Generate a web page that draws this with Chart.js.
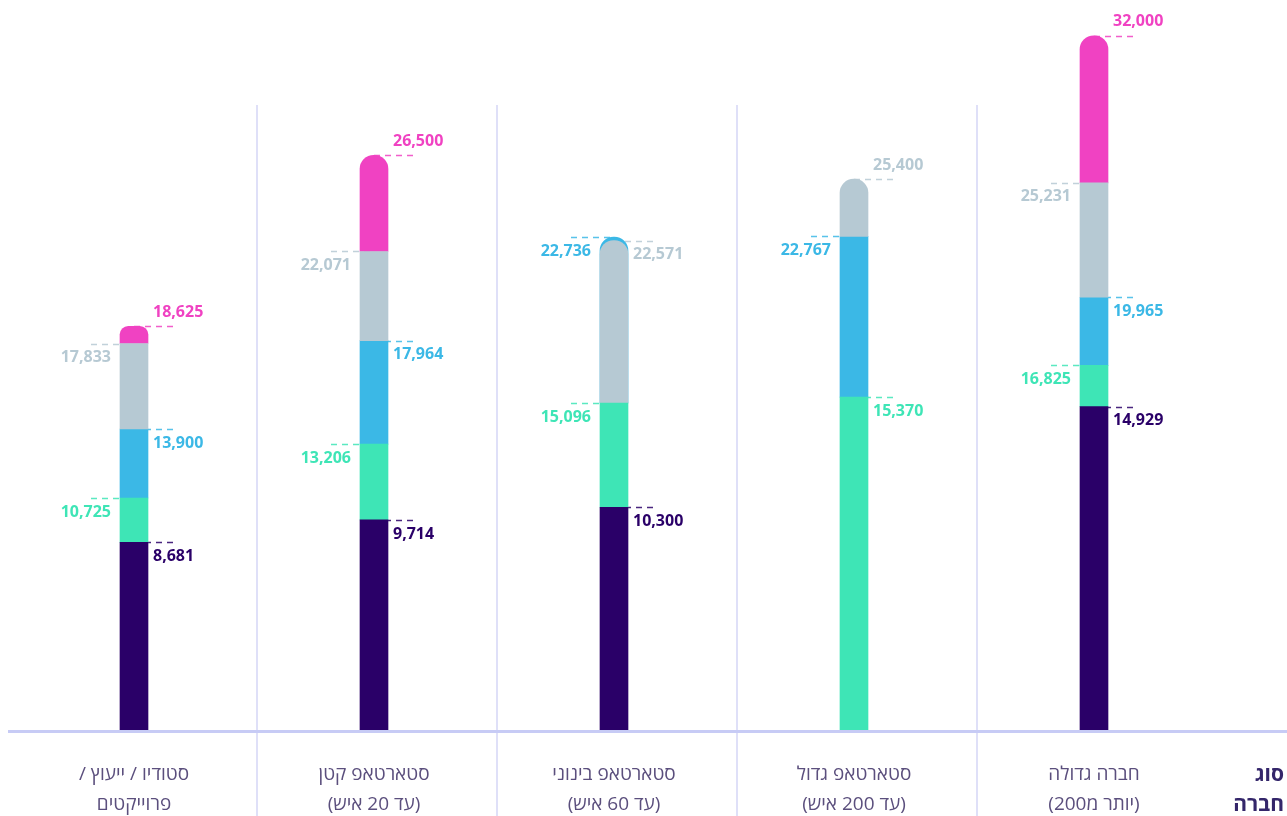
<!DOCTYPE html>
<html lang="he">
<head>
<meta charset="utf-8">
<script src="https://cdn.jsdelivr.net/npm/chart.js@4/dist/chart.umd.min.js"></script>
<style>
  html, body { margin: 0; padding: 0; background: #ffffff; }
  #wrap { width: 1287px; height: 816px; position: relative; }
  canvas { direction: rtl; }
</style>
</head>
<body>
<div id="wrap"><canvas id="c"></canvas></div>
<script>
// ---- data ----
const categories = [
  ["סטודיו / ייעוץ /", "פרוייקטים"],
  ["סטארטאפ קטן", "(עד 20 איש)"],
  ["סטארטאפ בינוני", "(עד 60 איש)"],
  ["סטארטאפ גדול", "(עד 200 איש)"],
  ["חברה גדולה", "(יותר מ200)"]
];
const axisTitle = ["סוג", "חברה"];
const seriesNames = ["סדרה 1", "סדרה 2", "סדרה 3", "סדרה 4", "סדרה 5"];
const darkValues  = [8681, 9714, 10300, null, 14929];
const greenValues = [10725, 13206, 15096, 15370, 16825];
const blueValues  = [13900, 17964, 22736, 22767, 19965];
const grayValues  = [17833, 22071, 22571, 25400, 25231];
const pinkValues  = [18625, 26500, null, null, 32000];

// ---- styles ----
const seriesColors = ["#2a0068", "#3ee5b6", "#3bb8e6", "#b6c9d3", "#f042c2"];
const drawOrder = [1, 2, 4, 3, 5];
// label placement per series per category: side (L/R) and above/below the leader line
const labelSide = [
  ["R", "R", "R", "R", "R"],
  ["L", "L", "L", "R", "L"],
  ["R", "R", "L", "L", "R"],
  ["L", "L", "R", "R", "L"],
  ["R", "R", "R", "R", "R"]
];
const labelAbove = [
  [false, false, false, false, false],
  [false, false, false, false, false],
  [false, false, false, false, false],
  [false, false, false, true, false],
  [true, true, true, true, true]
];

const allValues = [darkValues, greenValues, blueValues, grayValues, pinkValues];
const BAR_W = 28;
const RADIUS = 14;

function catMax(i) {
  let m = 0;
  allValues.forEach(a => { if (a[i] != null && a[i] > m) m = a[i]; });
  return m;
}
function floating(k) {
  return allValues[k].map((v, i) => {
    if (v == null) return null;
    let lower = 0;
    for (let j = 0; j < k; j++) {
      const w = allValues[j][i];
      if (w != null && w < v && w > lower) lower = w;
    }
    return [lower, v];
  });
}

const datasets = allValues.map((vals, k) => ({
  label: seriesNames[k],
  data: floating(k),
  backgroundColor: seriesColors[k],
  order: drawOrder[k],
  grouped: false,
  barThickness: BAR_W,
  borderSkipped: false,
  borderWidth: 0,
  borderRadius: (ctx) => {
    const i = ctx.dataIndex;
    const v = vals[i];
    const y = ctx.chart.scales && ctx.chart.scales.y;
    if (v == null || !y) return 0;
    const m = catMax(i);
    if (y.getPixelForValue(v) - y.getPixelForValue(m) < RADIUS) {
      return { topLeft: RADIUS, topRight: RADIUS, bottomLeft: 0, bottomRight: 0 };
    }
    return 0;
  }
}));

const decorPlugin = {
  id: "decor",
  beforeDatasetsDraw(chart) {
    const ctx = chart.ctx;
    const xs = chart.scales.x, ys = chart.scales.y;
    ctx.save();
    // separators
    ctx.strokeStyle = "#dfe0f8";
    ctx.lineWidth = 2;
    for (let i = 0; i < categories.length - 1; i++) {
      const xm = (xs.getPixelForValue(i) + xs.getPixelForValue(i + 1)) / 2 + 3;
      ctx.beginPath();
      ctx.moveTo(xm, 105);
      ctx.lineTo(xm, chart.height);
      ctx.stroke();
    }
    // leader lines
    ctx.lineWidth = 1.5;
    ctx.setLineDash([6, 5]);
    allValues.forEach((vals, k) => {
      vals.forEach((v, i) => {
        if (v == null) return;
        const cx = xs.getPixelForValue(i);
        const y = Math.round(ys.getPixelForValue(v)) + 0.5;
        ctx.strokeStyle = seriesColors[k];
        ctx.globalAlpha = 0.85;
        ctx.beginPath();
        if (labelSide[k][i] === "R") {
          ctx.moveTo(cx, y);
          ctx.lineTo(cx + BAR_W / 2 + 26, y);
        } else {
          ctx.moveTo(cx - BAR_W / 2 - 29, y);
          ctx.lineTo(cx, y);
        }
        ctx.stroke();
      });
    });
    ctx.restore();
  },
  afterDatasetsDraw(chart) {
    const ctx = chart.ctx;
    const xs = chart.scales.x, ys = chart.scales.y;
    ctx.save();
    ctx.direction = "ltr";
    ctx.font = "bold 16px 'Open Sans', 'Noto Sans', sans-serif";
    ctx.textBaseline = "middle";
    allValues.forEach((vals, k) => {
      vals.forEach((v, i) => {
        if (v == null) return;
        const cx = xs.getPixelForValue(i);
        const y = ys.getPixelForValue(v);
        const ty = labelAbove[k][i] ? y - 14 : y + 14;
        ctx.fillStyle = seriesColors[k];
        const txt = v.toLocaleString("en-US");
        if (labelSide[k][i] === "R") {
          ctx.textAlign = "left";
          ctx.fillText(txt, cx + BAR_W / 2 + 5, ty);
        } else {
          ctx.textAlign = "right";
          ctx.fillText(txt, cx - BAR_W / 2 - 9, ty);
        }
      });
    });
    // axis line
    ctx.strokeStyle = "#c7cbf5";
    ctx.lineWidth = 3;
    ctx.beginPath();
    ctx.moveTo(8, chart.chartArea.bottom + 0.5);
    ctx.lineTo(chart.width, chart.chartArea.bottom + 0.5);
    ctx.stroke();
    // axis title
    ctx.direction = "rtl";
    ctx.font = "bold 21px 'Open Sans', 'Noto Sans', 'DejaVu Sans', sans-serif";
    ctx.fillStyle = "#34266a";
    ctx.textAlign = "right";
    ctx.textBaseline = "middle";
    ctx.fillText(axisTitle[0], 1284, 775);
    ctx.fillText(axisTitle[1], 1284, 805);
    ctx.restore();
  }
};

new Chart(document.getElementById("c"), {
  type: "bar",
  data: { labels: categories, datasets },
  options: {
    responsive: true,
    maintainAspectRatio: false,
    animation: false,
    layout: { padding: { left: 14, right: 73, top: 14, bottom: 0 } },
    plugins: { legend: { display: false }, tooltip: { enabled: false } },
    scales: {
      x: {
        offset: true,
        grid: { display: false, drawTicks: false },
        border: { display: false },
        ticks: {
          maxRotation: 0,
          autoSkip: false,
          padding: 29,
          color: "#5b4f7d",
          font: { family: "'Open Sans', 'Noto Sans', 'DejaVu Sans', sans-serif", size: 19, lineHeight: 1.58 }
        },
        afterFit(scale) { scale.height = 85; }
      },
      y: {
        display: false,
        min: 0,
        max: 33000
      }
    }
  },
  plugins: [decorPlugin]
});
</script>
</body>
</html>
